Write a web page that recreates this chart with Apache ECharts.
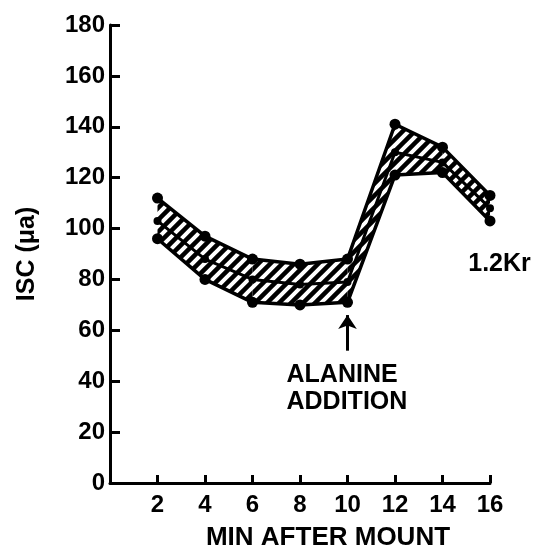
<!DOCTYPE html>
<html>
<head>
<meta charset="utf-8">
<script src="https://cdn.jsdelivr.net/npm/echarts@6/dist/echarts.min.js"></script>
<style>
html,body{margin:0;padding:0;background:#fff;}
#chart{width:535px;height:554px;}
</style>
</head>
<body>
<div id="chart"></div>
<script>
// ---- data ----
const minutes = [2, 4, 6, 8, 10, 12, 14, 16];
const upperISC = [112, 97, 88, 86, 88, 141, 132, 113];
const middleISC = [103, 88, 80, 78, 79, 130, 126, 108];
const lowerISC = [96, 80, 71, 70, 71, 121, 122, 103];
const yMin = 0, yMax = 180, yStep = 20;
const xMin = 0, xMax = 16, xStep = 2;
const xTitle = 'MIN AFTER MOUNT';
const yTitle = 'ISC (μa)';
const additionLabel = ['ALANINE', 'ADDITION'];
const additionTime = 10;
const arrowFrom = 52, arrowTo = 66;
const seriesLabel = '1.2Kr';

// ---- hatch pattern ----
function makeHatch() {
  const s = 12;
  const c = document.createElement('canvas');
  c.width = s; c.height = s;
  const g = c.getContext('2d');
  g.fillStyle = '#000';
  g.fillRect(0, 0, s, s);
  g.strokeStyle = '#fff';
  g.lineWidth = 4;
  g.lineCap = 'square';
  g.beginPath();
  g.moveTo(-2, s + 2); g.lineTo(s + 2, -2);
  g.moveTo(-2, 2); g.lineTo(2, -2);
  g.moveTo(s - 2, s + 2); g.lineTo(s + 2, s - 2);
  g.stroke();
  return c;
}
const hatch = makeHatch();

const pairs = arr => minutes.map((m, i) => [m, arr[i]]);
// band segments between consecutive samples: [x0, lo0, hi0, x1, lo1, hi1]
const bandSegments = minutes.slice(0, -1).map((m, i) =>
  [m, lowerISC[i], upperISC[i], minutes[i + 1], lowerISC[i + 1], upperISC[i + 1]]);
const FONT = 'Liberation Sans';

const chart = echarts.init(document.getElementById('chart'), null, {renderer: 'canvas'});
const lineBase = {
  type: 'line',
  symbol: 'circle',
  symbolSize: 11,
  lineStyle: {color: '#000', width: 3.5},
  itemStyle: {color: '#000'},
  z: 5,
  silent: true
};
chart.setOption({
  backgroundColor: '#fff',
  animation: false,
  grid: {left: 110, right: 45, top: 25, bottom: 71, containLabel: false, outerBoundsMode: 'none'},
  xAxis: {
    type: 'value', min: xMin, max: xMax, interval: xStep,
    name: xTitle, nameLocation: 'middle', nameGap: 42,
    nameTextStyle: {color: '#000', fontFamily: FONT, fontWeight: 'bold', fontSize: 26, padding: [0, 0, 0, 56]},
    axisLine: {show: true, onZero: false, lineStyle: {color: '#000', width: 3}},
    axisTick: {show: true, inside: true, length: 8, lineStyle: {color: '#000', width: 3}},
    axisLabel: {color: '#000', fontFamily: FONT, fontWeight: 'bold', fontSize: 24, margin: 10,
      formatter: v => v === 0 ? '' : String(v)},
    splitLine: {show: false}
  },
  yAxis: {
    type: 'value', min: yMin, max: yMax, interval: yStep,
    name: yTitle, nameLocation: 'middle', nameGap: 70, nameRotate: 90,
    nameTextStyle: {color: '#000', fontFamily: FONT, fontWeight: 'bold', fontSize: 25},
    axisLine: {show: true, lineStyle: {color: '#000', width: 3}},
    axisTick: {show: true, inside: true, length: 10, lineStyle: {color: '#000', width: 3}},
    axisLabel: {color: '#000', fontFamily: FONT, fontWeight: 'bold', fontSize: 24, margin: 5},
    splitLine: {show: false}
  },
  series: [
    {
      type: 'custom', silent: true, z: 2,
      data: bandSegments,
      encode: {x: [0, 3], y: [1, 2, 4, 5]},
      renderItem: function (params, api) {
        const p0l = api.coord([api.value(0), api.value(1)]);
        const p0u = api.coord([api.value(0), api.value(2)]);
        const p1l = api.coord([api.value(3), api.value(4)]);
        const p1u = api.coord([api.value(3), api.value(5)]);
        return {
          type: 'polygon',
          shape: {points: [p0l, p1l, p1u, p0u]},
          style: {fill: {image: hatch, repeat: 'repeat'}, stroke: null, lineWidth: 0}
        };
      }
    },
    Object.assign({}, lineBase, {name: 'upper', data: pairs(upperISC),
      markLine: {
        silent: true, symbol: ['none', 'arrow'], symbolSize: 14,
        lineStyle: {color: '#000', width: 3, type: 'solid'},
        label: {show: false},
        data: [[{coord: [additionTime, arrowFrom]}, {coord: [additionTime, arrowTo]}]]
      },
      markPoint: {
        silent: true, symbol: 'circle', symbolSize: 0,
        label: {show: true, position: 'inside', color: '#000', fontFamily: FONT, fontWeight: 'bold',
          fontSize: 25, lineHeight: 27},
        data: [
          {coord: [additionTime, 37], value: 0,
           label: {formatter: additionLabel.join('\n'), align: 'left', offset: [-61, 0]}},
          {coord: [15, 86], value: 0,
           label: {formatter: seriesLabel, align: 'left', offset: [2, 0]}}
        ]
      }}),
    Object.assign({}, lineBase, {name: 'middle', data: pairs(middleISC), symbolSize: 8, lineStyle: {color: '#000', width: 3}}),
    Object.assign({}, lineBase, {name: 'lower', data: pairs(lowerISC)})
  ]
});
</script>
</body>
</html>
